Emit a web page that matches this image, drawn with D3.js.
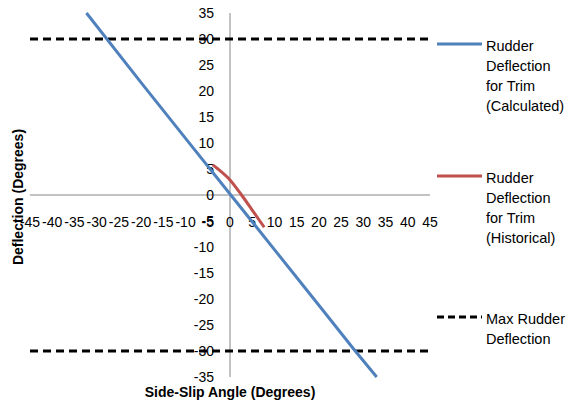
<!DOCTYPE html>
<html>
<head>
<meta charset="utf-8">
<script src="https://cdn.jsdelivr.net/npm/d3@7"></script>
<style>
  html, body { margin: 0; padding: 0; background: #fff; }
  svg { display: block; }
  text { font-family: "Liberation Sans", Arial, sans-serif; fill: #000; }
</style>
</head>
<body>
<svg id="chart" width="574" height="404"></svg>
<script>
// ---- data ----
const xTicks = [-45,-40,-35,-30,-25,-20,-15,-10,-5,0,5,10,15,20,25,30,35,40,45];
const yTicks = [-35,-30,-25,-20,-15,-10,-5,0,5,10,15,20,25,30,35];
const calcX = [-32.3, -20, -10, 0, 10, 20, 28, 33];
const calcY = [35, 21.6, 10.9, 0.2, -10.5, -21.2, -29.8, -35];
const histX = [-3.9, -2.7, 0, 2.6, 5, 7.7];
const histY = [5.8, 5.0, 2.9, 0, -2.9, -6.2];
const maxLimits = [30, -30];
const seriesNames = [
  ["Rudder", "Deflection", "for Trim", "(Calculated)"],
  ["Rudder", "Deflection", "for Trim", "(Historical)"],
  ["Max Rudder", "Deflection"]
];
const xTitle = "Side-Slip Angle (Degrees)";
const yTitle = "Deflection (Degrees)";

// ---- drawing ----
const svg = d3.select("#chart");
const x = d3.scaleLinear().domain([-45, 45]).range([30, 430]);
const y = d3.scaleLinear().domain([-35, 35]).range([377, 13]);

const blue = "#4F81BD", red = "#C0504D", axisCol = "#868686";

// axes lines
svg.append("line").attr("x1", x(-45)).attr("x2", x(45)).attr("y1", y(0)).attr("y2", y(0))
  .attr("stroke", axisCol).attr("stroke-width", 1);
svg.append("line").attr("x1", x(0)).attr("x2", x(0)).attr("y1", y(35)).attr("y2", y(-35))
  .attr("stroke", axisCol).attr("stroke-width", 1);

// y tick labels
svg.append("g").selectAll("text").data(yTicks).join("text")
  .attr("x", x(0) - 16).attr("y", d => y(d)).attr("dy", "0.36em")
  .attr("text-anchor", "end").attr("font-size", 14)
  .text(d => d);

// x tick labels
svg.append("g").selectAll("text").data(xTicks).join("text")
  .attr("x", d => x(d)).attr("y", y(0) + 32)
  .attr("text-anchor", "middle").attr("font-size", 14)
  .text(d => d);

// max deflection dashed lines
svg.append("g").selectAll("line").data(maxLimits).join("line")
  .attr("x1", x(-45)).attr("x2", x(45)).attr("y1", d => y(d)).attr("y2", d => y(d))
  .attr("stroke", "#000").attr("stroke-width", 3).attr("stroke-dasharray", "8,5");

// series lines
const line = d3.line().x(d => x(d[0])).y(d => y(d[1]));
svg.append("path").datum(calcX.map((v, i) => [v, calcY[i]]))
  .attr("d", line).attr("fill", "none").attr("stroke", blue).attr("stroke-width", 3);
svg.append("path").datum(histX.map((v, i) => [v, histY[i]]))
  .attr("d", d3.line().x(d => x(d[0])).y(d => y(d[1])).curve(d3.curveMonotoneX))
  .attr("fill", "none").attr("stroke", red).attr("stroke-width", 3);

// axis titles
svg.append("text").attr("x", x(0)).attr("y", 397).attr("text-anchor", "middle")
  .attr("font-size", 14).attr("font-weight", "bold").text(xTitle);
svg.append("text").attr("transform", `translate(23,${197}) rotate(-90)`)
  .attr("text-anchor", "middle").attr("font-size", 14).attr("font-weight", "bold").text(yTitle);

// legend
const legY = [44, 176, 317];
const legStyles = [
  {stroke: blue, dash: null},
  {stroke: red, dash: null},
  {stroke: "#000", dash: "7,4"}
];
const leg = svg.append("g");
seriesNames.forEach((lines, i) => {
  leg.append("line").attr("x1", 437).attr("x2", 482).attr("y1", legY[i]).attr("y2", legY[i])
    .attr("stroke", legStyles[i].stroke).attr("stroke-width", 3)
    .attr("stroke-dasharray", legStyles[i].dash);
  const t = leg.append("text").attr("x", 486).attr("y", legY[i] + 2).attr("dy", "0.36em")
    .attr("font-size", 14.5);
  lines.forEach((s, j) => {
    t.append("tspan").attr("x", 486).attr("dy", j === 0 ? "0.36em" : 20).text(s);
  });
});
</script>
</body>
</html>
